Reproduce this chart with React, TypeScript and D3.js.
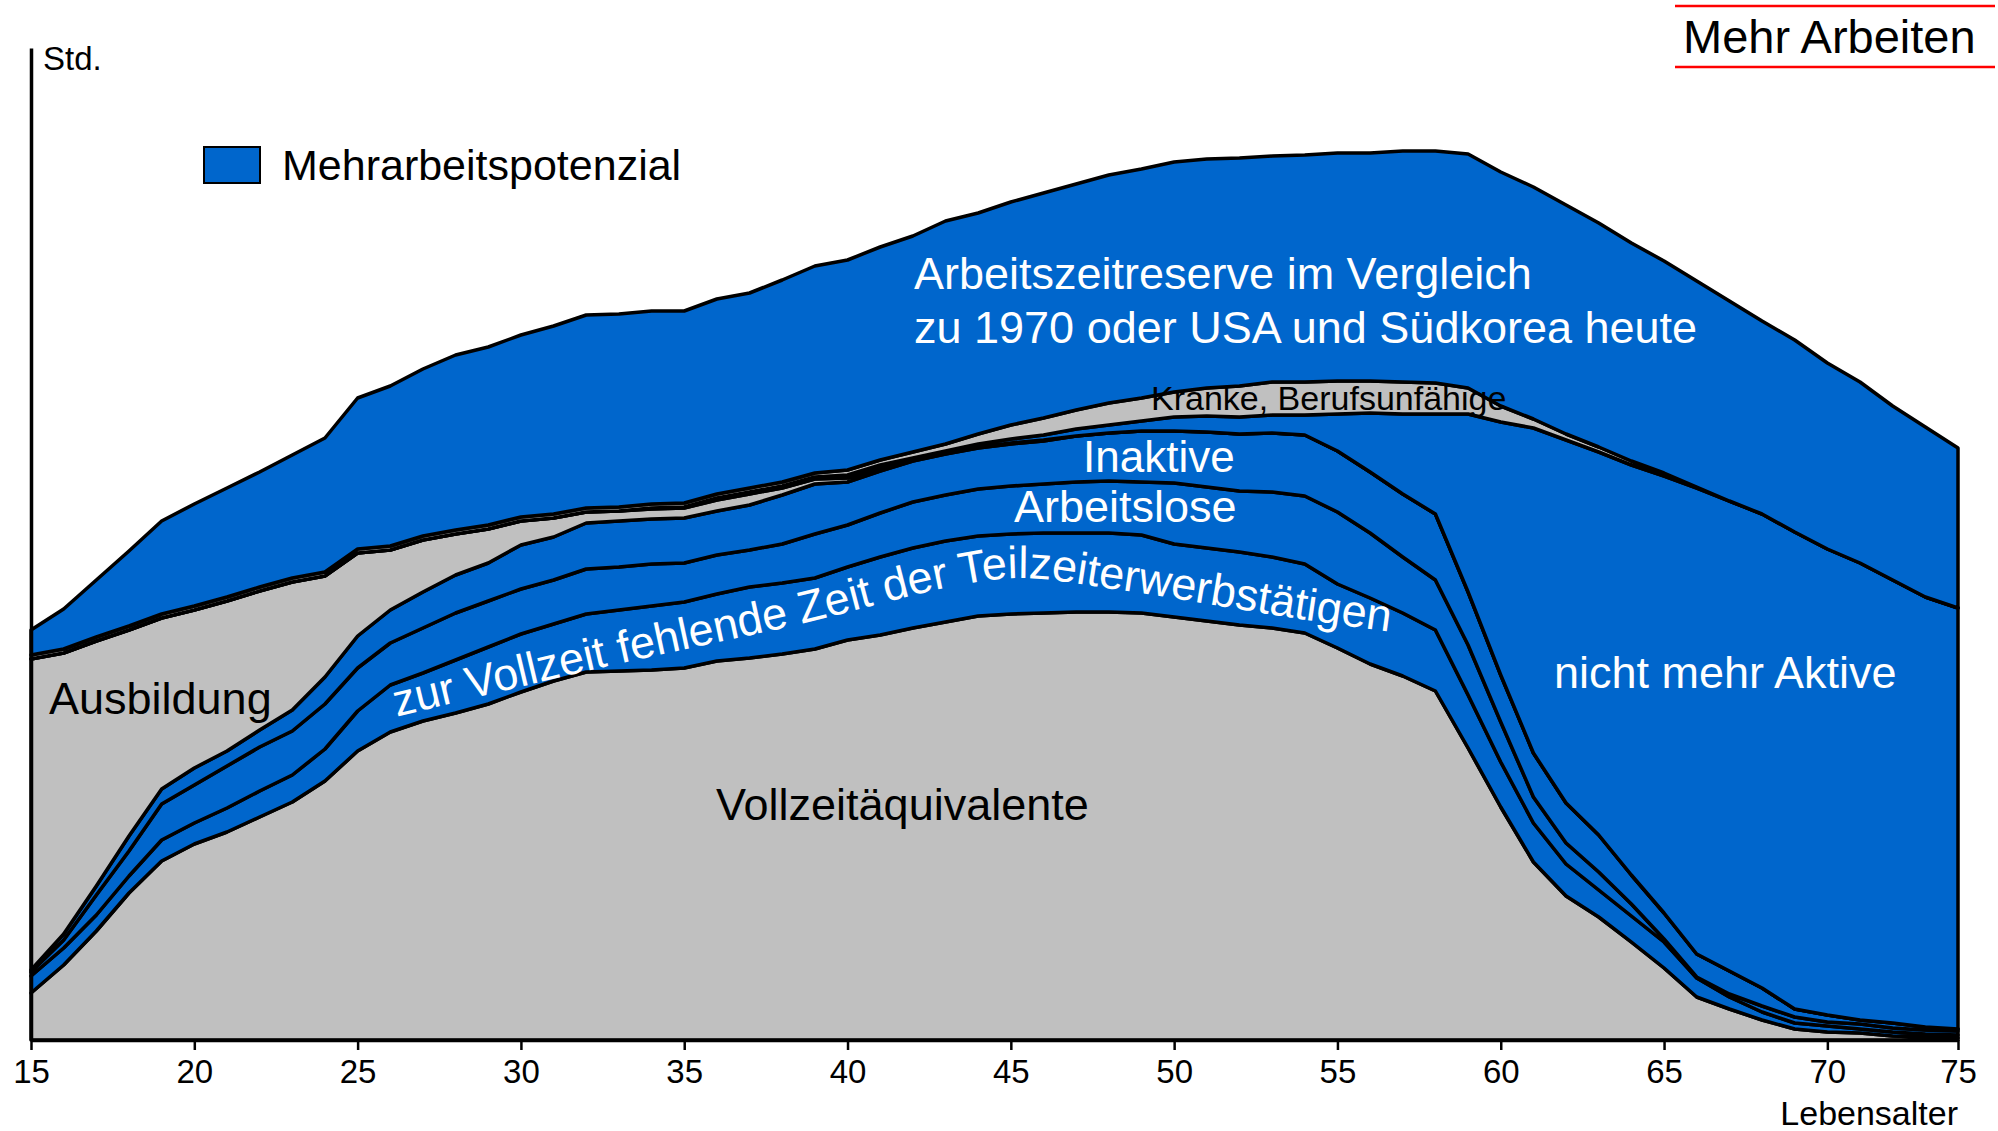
import { useEffect, useRef } from 'react';
import * as d3 from 'd3';

// Lebensalter (one point per year)
const ages = [15, 16, 17, 18, 19, 20, 21, 22, 23, 24, 25, 26, 27, 28, 29, 30, 31, 32, 33, 34,
  35, 36, 37, 38, 39, 40, 41, 42, 43, 44, 45, 46, 47, 48, 49, 50, 51, 52, 53, 54,
  55, 56, 57, 58, 59, 60, 61, 62, 63, 64, 65, 66, 67, 68, 69, 70, 71, 72, 73, 74];

// layer thicknesses (arbitrary "Std." units), bottom to top
const vollzeit = [47, 75, 109, 147, 179, 196, 208, 223, 238, 259,
  289, 308, 319, 327, 336, 348, 359, 368, 369, 370,
  372, 379, 382, 386, 391, 400, 405, 412, 418, 424,
  426, 427, 428, 428, 427, 423, 419, 415, 412, 407,
  392, 376, 364, 349, 292, 233, 178, 144, 123, 98,
  72, 43, 31, 20, 11, 8, 7, 4, 3, 2];
const teilzeit = [17, 17, 16, 17, 21, 21, 24, 26, 27, 32,
  40, 47, 48, 53, 57, 58, 57, 58, 61, 64,
  66, 67, 71, 71, 71, 73, 78, 80, 81, 80,
  80, 80, 79, 79, 78, 73, 73, 73, 71, 69,
  64, 66, 63, 61, 53, 45, 39, 32, 27, 26,
  26, 19, 12, 8, 6, 6, 4, 4, 3, 3];
const arbeitslose = [4, 8, 20, 25, 36, 38, 42, 44, 44, 45,
  43, 42, 45, 47, 46, 45, 44, 45, 43, 42,
  39, 39, 37, 39, 44, 42, 44, 46, 46, 47,
  48, 49, 51, 52, 53, 61, 61, 61, 65, 68,
  72, 65, 56, 50, 50, 40, 26, 21, 18, 12,
  3, 1, 3, 6, 6, 4, 5, 4, 4, 4];
const inaktive = [2, 6, 9, 15, 15, 17, 15, 17, 21, 27,
  32, 33, 36, 38, 38, 44, 43, 46, 46, 45,
  45, 44, 45, 49, 50, 43, 42, 41, 41, 41,
  42, 43, 46, 48, 51, 52, 55, 57, 59, 61,
  61, 61, 63, 66, 53, 47, 44, 40, 37, 29,
  26, 23, 23, 18, 8, 7, 4, 5, 3, 2];
const ausbildung = [311, 281, 245, 206, 171, 158, 150, 139, 128, 101,
  83, 60, 52, 41, 34, 24, 19, 11, 10, 10,
  10, 11, 11, 7, 5, 4, 3, 1, 1, 1,
  1, 1, 0, 0, 0, 0, 0, 0, 0, 0,
  0, 0, 0, 0, 0, 0, 0, 0, 0, 0,
  0, 0, 0, 0, 0, 0, 0, 0, 0, 0];
const nichtMehrAktiv = [0, 0, 0, 0, 0, 0, 0, 0, 0, 0,
  0, 0, 0, 0, 0, 0, 0, 0, 0, 1,
  1, 2, 2, 2, 2, 3, 3, 2, 2, 3,
  4, 5, 7, 8, 10, 14, 16, 17, 18, 20,
  37, 59, 80, 100, 178, 253, 325, 363, 383, 410,
  437, 466, 470, 474, 477, 466, 457, 443, 430, 421];
const kranke = [4, 4, 4, 4, 4, 4, 4, 4, 4, 4,
  4, 4, 4, 4, 4, 4, 4, 4, 4, 4,
  4, 4, 4, 4, 4, 5, 5, 6, 7, 10,
  14, 17, 19, 22, 23, 25, 28, 31, 33, 33,
  33, 32, 32, 31, 26, 16, 9, 6, 5, 4,
  3, 1, 0, 0, 0, 0, 0, 0, 0, 0];
const reserve = [25, 40, 57, 75, 93, 102, 109, 115, 123, 134,
  151, 160, 167, 175, 178, 182, 188, 193, 193, 193,
  192, 195, 195, 202, 207, 210, 213, 216, 223, 221,
  223, 225, 226, 228, 229, 230, 229, 228, 226, 227,
  228, 228, 231, 232, 234, 234, 232, 229, 224, 218,
  212, 206, 200, 193, 192, 186, 181, 174, 170, 160];

const xTicks = [15, 20, 25, 30, 35, 40, 45, 50, 55, 60, 65, 70, 74];
const xTickLabels = ['15', '20', '25', '30', '35', '40', '45', '50', '55', '60', '65', '70', '75'];

// guide for the curved label (age, value)
const labelPathAges = [24.77, 32.42, 38.55, 43.14, 45.28, 48.34, 53.85, 57.53];
const labelPathValues = [312, 372, 416, 453, 462, 450, 421, 404];

const BLUE = '#0066cc';
const GRAY = '#c0c0c0';
const FONT = '"Liberation Sans", Arial, Helvetica, sans-serif';

const App = () => {
  const svgRef = useRef(null);

  const draw = () => {
    const svg = d3.select(svgRef.current);
    svg.selectAll('*').remove();

    const x = d3.scaleLinear().domain([15, 74]).range([31, 1958]);
    const y = d3.scaleLinear().domain([0, 992]).range([1040, 48]);

    const cols = { vollzeit, teilzeit, arbeitslose, inaktive, ausbildung, nichtMehrAktiv, kranke, reserve };
    const keys = Object.keys(cols);
    const fills = {
      vollzeit: GRAY, teilzeit: BLUE, arbeitslose: BLUE, inaktive: BLUE,
      ausbildung: GRAY, nichtMehrAktiv: BLUE, kranke: GRAY, reserve: BLUE,
    };
    const rows = ages.map((age, i) => {
      const r = { age };
      keys.forEach(k => { r[k] = cols[k][i]; });
      return r;
    });
    const series = d3.stack().keys(keys)(rows);

    const area = d3.area()
      .x(d => x(d.data.age))
      .y0(d => y(d[0]))
      .y1(d => y(d[1]));

    svg.append('g')
      .selectAll('path')
      .data(series)
      .join('path')
      .attr('d', area)
      .attr('fill', d => fills[d.key])
      .attr('stroke', '#000')
      .attr('stroke-width', 3.5)
      .attr('stroke-linejoin', 'round');

    // axes
    const xAxis = svg.append('g')
      .attr('transform', 'translate(0,1040)')
      .call(d3.axisBottom(x).tickValues(xTicks).tickSize(10).tickSizeOuter(0).tickPadding(10)
        .tickFormat((d, i) => xTickLabels[i]));
    xAxis.select('.domain').attr('stroke-width', 3.5);
    xAxis.selectAll('.tick line').attr('stroke-width', 2.5);
    xAxis.selectAll('.tick text').attr('font-size', 33).attr('font-family', FONT).attr('fill', '#000');

    const yAxis = svg.append('g')
      .attr('transform', 'translate(31,0)')
      .call(d3.axisLeft(y).tickValues([]).tickSizeOuter(0));
    yAxis.select('.domain').attr('stroke-width', 3.5);

    const txt = (s, tx, ty, size, color, anchor = 'start') =>
      svg.append('text')
        .attr('x', tx).attr('y', ty)
        .attr('font-family', FONT).attr('font-size', size)
        .attr('fill', color).attr('text-anchor', anchor)
        .text(s);

    txt('Std.', 43, 70, 33, '#000');
    txt('Lebensalter', 1958, 1125, 34, '#000', 'end');

    // legend
    svg.append('rect')
      .attr('x', 204).attr('y', 147).attr('width', 56).attr('height', 36)
      .attr('fill', BLUE).attr('stroke', '#000').attr('stroke-width', 2);
    txt('Mehrarbeitspotenzial', 282, 180, 43, '#000');

    // title with red rules
    svg.append('line').attr('x1', 1675).attr('x2', 1995).attr('y1', 6).attr('y2', 6)
      .attr('stroke', '#ff0000').attr('stroke-width', 2.5);
    svg.append('line').attr('x1', 1675).attr('x2', 1995).attr('y1', 67).attr('y2', 67)
      .attr('stroke', '#ff0000').attr('stroke-width', 2.5);
    txt('Mehr Arbeiten', 1683, 53, 47, '#000');

    // area labels
    txt('Arbeitszeitreserve im Vergleich', 914, 289, 45, '#fff');
    txt('zu 1970 oder USA und Südkorea heute', 914, 343, 45, '#fff');
    txt('Kranke, Berufsunfähige', 1151, 410, 34, '#000');
    txt('Inaktive', 1083, 472, 44, '#fff');
    txt('Arbeitslose', 1014, 522, 45, '#fff');
    txt('nicht mehr Aktive', 1554, 688, 45, '#fff');
    txt('Ausbildung', 49, 714, 45, '#000');
    txt('Vollzeitäquivalente', 716, 820, 45, '#000');

    // curved label along the part-time band
    const guide = d3.line()
      .x(d => x(d[0]))
      .y(d => y(d[1]))
      .curve(d3.curveCatmullRom);
    svg.append('defs').append('path')
      .attr('id', 'teilzeitPath')
      .attr('d', guide(labelPathAges.map((a, i) => [a, labelPathValues[i]])));
    svg.append('text')
      .attr('font-family', FONT).attr('font-size', 45).attr('fill', '#fff')
      .append('textPath')
      .attr('href', '#teilzeitPath')
      .attr('startOffset', 48)
      .text('zur Vollzeit fehlende Zeit der Teilzeiterwerbstätigen');
  };

  useEffect(() => {
    draw();
  }, []);

  return (
    <svg ref={svgRef} width={1998} height={1131}
      style={{ position: 'absolute', left: 0, top: 0, background: '#fff' }} />
  );
};

export default App;
